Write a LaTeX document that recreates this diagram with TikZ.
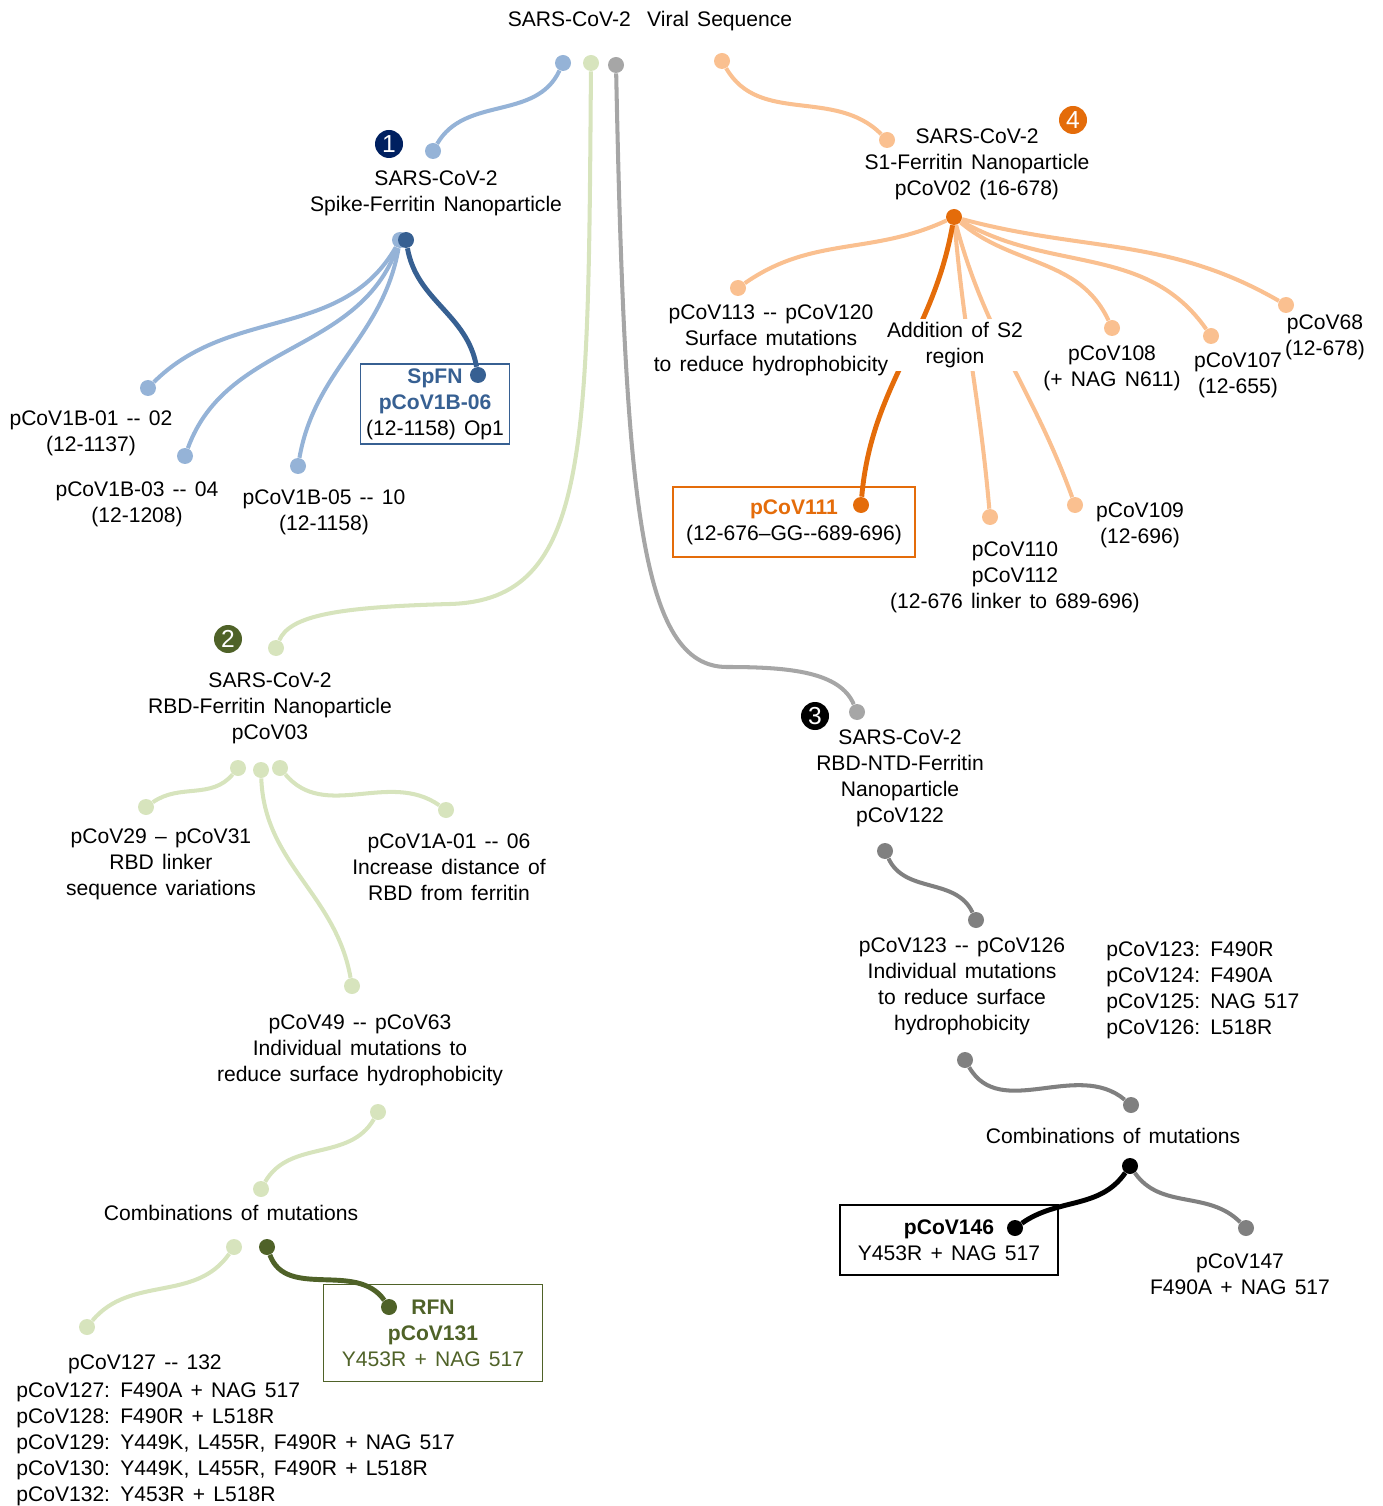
\documentclass[tikz,border=0pt]{standalone}
\usepackage{fontspec}
\setmainfont{Liberation Sans}[Ligatures = TeXOff, WordSpace = 1.4]

\definecolor{spikelight}{HTML}{95B3D7}
\definecolor{spikedark}{HTML}{376092}
\definecolor{spikenavy}{HTML}{002060}
\definecolor{rbdlight}{HTML}{D7E4BD}
\definecolor{rbddark}{HTML}{4F6228}
\definecolor{ntdlight}{HTML}{A6A6A6}
\definecolor{ntdmid}{HTML}{808080}
\definecolor{sonelight}{HTML}{FAC090}
\definecolor{sonedark}{HTML}{E46C0A}

\begin{document}
\begin{tikzpicture}[x = 0.02cm, y = -0.02cm,
	every node/.style = {font = \fontsize{12}{14.8}\selectfont},
	txt/.style = {align = center, inner sep = 0},
	dot/.style = {circle, inner sep = 0, minimum size = 0.32cm},
	link/.style = {line width = 2.3pt},
	keylink/.style = {line width = 2.8pt},
	badge/.style = {circle, inner sep = 0, minimum size = 0.56cm, text = white, font = \fontsize{14}{14}\selectfont},
	pick/.style = {draw, line width = 1pt, align = center, inner sep = 0}]

	\useasboundingbox (0, 0) rectangle (1382, 1506);

	% Viral sequence
	
	\node [txt] (seq) at (650, 21) {SARS-CoV-2 \ Viral Sequence};
	
	% Branch 1: spike-ferritin
	
	\node [badge, fill = spikenavy] (b1) at (389, 144) {1};
	\node [txt] (spike) at (436, 193) {SARS-CoV-2\\Spike-Ferritin Nanoparticle};
	\node [txt] (v1b01) at (91, 433) {pCoV1B-01 -- 02\\(12-1137)};
	\node [txt] (v1b03) at (137, 504) {pCoV1B-03 -- 04\\(12-1208)};
	\node [txt] (v1b05) at (324, 512) {pCoV1B-05 -- 10\\(12-1158)};
	\node [pick, draw = spikedark, minimum width = 2.98cm, minimum height = 1.6cm] (spfn) at (435, 404)
		{\textcolor{spikedark}{\textbf{SpFN}}\\\textcolor{spikedark}{\textbf{pCoV1B-06}}\\(12-1158) Op1};
	
	\node [dot, fill = spikelight] (sp0) at (563, 63) {};
	\node [dot, fill = spikelight] (sp1) at (433, 151) {};
	\node [dot, fill = spikelight] (sp2) at (400, 240) {};
	\node [dot, fill = spikedark] (spd) at (406, 240) {};
	\node [dot, fill = spikelight] (sp3) at (148, 388) {};
	\node [dot, fill = spikelight] (sp4) at (185, 456) {};
	\node [dot, fill = spikelight] (sp5) at (298, 466) {};
	\node [dot, fill = spikedark] (sp6) at (478, 375) {};
	
	\begin{scope}[link, spikelight]
		\draw (sp0) to [out = 245, in = 60] (sp1);
		\draw (sp2) to [out = 240, in = 45] (sp3);
		\draw (sp2) to [out = 250, in = 70] (sp4);
		\draw (sp2) to [out = 260, in = 80] (sp5);
	\end{scope}
	\draw [keylink, spikedark] (spd) to [out = -80, in = 100] (sp6);
	
	% Branch 2: RBD-ferritin
	
	\node [badge, fill = rbddark] (b2) at (228, 639) {2};
	\node [txt] (rbd) at (270, 708) {SARS-CoV-2\\RBD-Ferritin Nanoparticle\\pCoV03};
	\node [txt] (v29) at (161, 864) {pCoV29 – pCoV31\\RBD linker\\sequence variations};
	\node [txt] (v1a) at (449, 867) {pCoV1A-01 -- 06\\Increase distance of\\RBD from ferritin};
	\node [txt] (v49) at (360, 1050) {pCoV49 -- pCoV63\\Individual mutations to\\reduce surface hydrophobicity};
	\node [txt] (combo2) at (231, 1213) {Combinations of mutations};
	\node [txt] (v127) at (145, 1364) {pCoV127 -- 132};
	\node [txt, align = left, anchor = west] (list127) at (16, 1444)
		{pCoV127: F490A + NAG 517\\pCoV128: F490R + L518R\\pCoV129: Y449K, L455R, F490R + NAG 517\\pCoV130: Y449K, L455R, F490R + L518R\\pCoV132: Y453R + L518R};
	\node [pick, draw = rbddark, minimum width = 4.38cm, minimum height = 1.94cm] (rfn) at (433, 1333)
		{\textcolor{rbddark}{\textbf{RFN}}\\\textcolor{rbddark}{\textbf{pCoV131}}\\\textcolor{rbddark}{Y453R + NAG 517}};
	
	\node [dot, fill = rbdlight] (rb0) at (591, 63) {};
	\node [dot, fill = rbdlight] (rb1) at (276, 648) {};
	\node [dot, fill = rbdlight] (rb2) at (238, 768) {};
	\node [dot, fill = rbdlight] (rb3) at (261, 770) {};
	\node [dot, fill = rbdlight] (rb4) at (280, 768) {};
	\node [dot, fill = rbdlight] (rb5) at (146, 807) {};
	\node [dot, fill = rbdlight] (rb6) at (446, 810) {};
	\node [dot, fill = rbdlight] (rb7) at (352, 986) {};
	\node [dot, fill = rbdlight] (rb8) at (378, 1112) {};
	\node [dot, fill = rbdlight] (rb9) at (261, 1189) {};
	\node [dot, fill = rbdlight] (rb10) at (234, 1247) {};
	\node [dot, fill = rbddark] (rb11) at (267, 1247) {};
	\node [dot, fill = rbdlight] (rb12) at (87, 1327) {};
	\node [dot, fill = rbddark] (rb13) at (389, 1307) {};
	
	\begin{scope}[link, rbdlight]
		\draw (rb0) .. controls (588, 450) and (590, 600) .. (450, 604)
			.. controls (340, 607) and (290, 615) .. (rb1);
		\draw (rb2) to [out = 230, in = 35] (rb5);
		\draw (rb4) to [out = -50, in = 145] (rb6);
		\draw (rb3) to [out = -88, in = 100] (rb7);
		\draw (rb8) to [out = 240, in = 60] (rb9);
		\draw (rb10) to [out = 235, in = 50] (rb12);
	\end{scope}
	\draw [keylink, rbddark] (rb11) to [out = -70, in = 125] (rb13);
	
	% Branch 3: RBD-NTD-ferritin
	
	\node [badge, fill = black] (b3) at (815, 716) {3};
	\node [txt] (ntd) at (900, 778) {SARS-CoV-2\\RBD-NTD-Ferritin\\Nanoparticle\\pCoV122};
	\node [txt] (v123) at (962, 986) {pCoV123 -- pCoV126\\Individual mutations\\to reduce surface\\hydrophobicity};
	\node [txt, align = left, anchor = west] (list123) at (1106, 990)
		{pCoV123: F490R\\pCoV124: F490A\\pCoV125: NAG 517\\pCoV126: L518R};
	\node [txt] (combo3) at (1113, 1136) {Combinations of mutations};
	\node [txt] (v147) at (1240, 1274) {pCoV147\\F490A + NAG 517};
	\node [pick, draw = black, minimum width = 4.36cm, minimum height = 1.4cm] (v146) at (949, 1240)
		{\textbf{pCoV146}\\Y453R + NAG 517};
	
	\node [dot, fill = ntdlight] (nt0) at (616, 65) {};
	\node [dot, fill = ntdlight] (nt1) at (857, 712) {};
	\node [dot, fill = ntdmid] (nt2) at (885, 851) {};
	\node [dot, fill = ntdmid] (nt3) at (976, 920) {};
	\node [dot, fill = ntdmid] (nt4) at (965, 1060) {};
	\node [dot, fill = ntdmid] (nt5) at (1131, 1105) {};
	\node [dot, fill = black] (nt6) at (1130, 1166) {};
	\node [dot, fill = black] (nt7) at (1015, 1228) {};
	\node [dot, fill = ntdmid] (nt8) at (1246, 1228) {};
	
	\draw [link, ntdlight] (nt0) .. controls (625, 500) and (640, 667) .. (727, 667)
		.. controls (790, 667) and (840, 672) .. (nt1);
	\begin{scope}[link, ntdmid]
		\draw (nt2) to [out = -65, in = 115] (nt3);
		\draw (nt4) to [out = -60, in = 140] (nt5);
		\draw (nt6) to [out = -55, in = 135] (nt8);
	\end{scope}
	\draw [keylink, black] (nt6) to [out = 235, in = 35] (nt7);
	
	% Branch 4: S1-ferritin
	
	\node [badge, fill = sonedark] (b4) at (1073, 120) {4};
	\node [txt] (sone) at (977, 164) {SARS-CoV-2\\S1-Ferritin Nanoparticle\\pCoV02 (16-678)};
	\node [txt] (v108) at (1112, 368) {pCoV108\\(+ NAG N611)};
	\node [txt] (v107) at (1238, 375) {pCoV107\\(12-655)};
	\node [txt] (v68) at (1325, 337) {pCoV68\\(12-678)};
	\node [txt] (v109) at (1140, 525) {pCoV109\\(12-696)};
	\node [txt] (v110) at (1015, 577) {pCoV110\\pCoV112\\(12-676 linker to 689-696)};
	\node [pick, draw = sonedark, minimum width = 4.84cm, minimum height = 1.4cm] (v111) at (794, 522)
		{\textcolor{sonedark}{\textbf{pCoV111}}\\(12-676–GG--689-696)};
	
	\node [dot, fill = sonelight] (s0) at (722, 61) {};
	\node [dot, fill = sonelight] (s1) at (887, 140) {};
	\node [dot, fill = sonedark] (s2) at (954, 217) {};
	\node [dot, fill = sonelight] (s3) at (738, 288) {};
	\node [dot, fill = sonelight] (s4) at (1112, 328) {};
	\node [dot, fill = sonelight] (s5) at (1211, 336) {};
	\node [dot, fill = sonelight] (s6) at (1286, 305) {};
	\node [dot, fill = sonedark] (s7) at (861, 505) {};
	\node [dot, fill = sonelight] (s8) at (990, 517) {};
	\node [dot, fill = sonelight] (s9) at (1075, 505) {};
	
	\begin{scope}[link, sonelight]
		\draw (s0) to [out = -60, in = 135] (s1);
		\draw (s2) to [out = 205, in = 35] (s3);
		\draw (s2) to [out = -40, in = 115] (s4);
		\draw (s2) to [out = -30, in = 125] (s5);
		\draw (s2) to [out = -15, in = 150] (s6);
		\draw (s2) to [out = -85, in = 95] (s8);
		\draw (s2) to [out = -75, in = 110] (s9);
	\end{scope}
	\draw [keylink, sonedark] (s2) to [out = -100, in = 85] (s7);
	
	\node [txt, fill = white, inner ysep = 2pt] (stwo) at (955, 345) {Addition of S2\\region};
	\node [txt] (v113) at (771, 340) {pCoV113 -- pCoV120\\Surface mutations\\to reduce hydrophobicity};

\end{tikzpicture}
\end{document}
